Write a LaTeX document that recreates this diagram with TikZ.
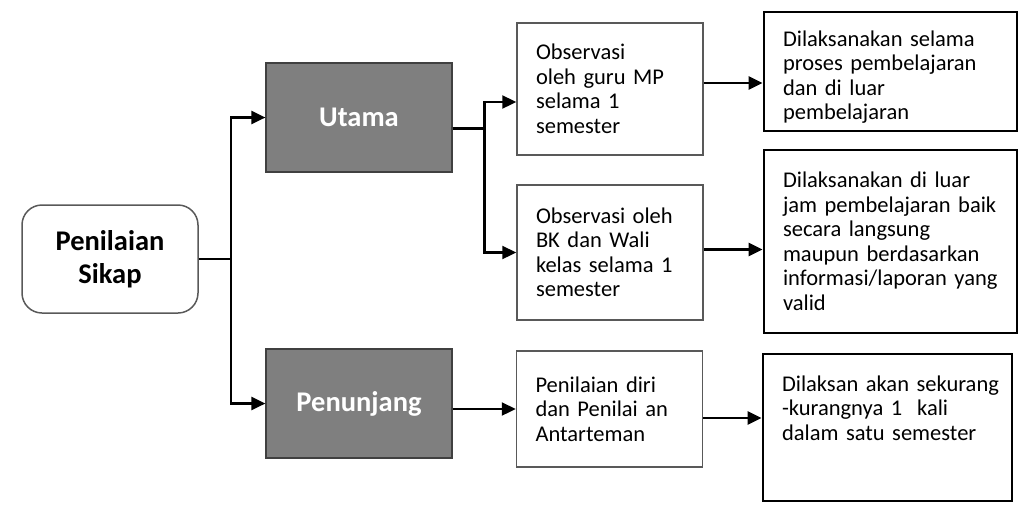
\documentclass[tikz,border=0pt]{standalone}
\usepackage{fontspec}
\setmainfont{Carlito}
\usetikzlibrary{arrows.meta}
\definecolor{boxgray}{HTML}{7F7F7F}
\definecolor{edgegray}{HTML}{595959}

\begin{document}
\begin{tikzpicture}[
    x=1pt, y=-1pt,
    root/.style={draw=edgegray, line width=1.5pt, rounded corners=20pt, minimum width=176pt, minimum height=108pt, align=center, font=\fontsize{28.5}{33}\selectfont\bfseries},
    cat/.style={draw=black!75, line width=1.2pt, fill=boxgray, text=white, minimum width=186pt, minimum height=109pt, font=\fontsize{28.5}{33}\selectfont\bfseries},
    obs/.style={draw=edgegray, line width=1.5pt, inner xsep=0pt, text width=148pt, minimum width=186pt, align=left, font=\fontsize{22.5}{24.5}\selectfont},
    ket/.style={draw=black, line width=2.8pt, inner xsep=0pt, text width=215pt, minimum width=253pt, align=left, font=\fontsize{22.5}{24.5}\selectfont},
    arr/.style={-{Triangle[length=14pt, width=13pt]}, line width=2.3pt}
]
\useasboundingbox (0,0) rectangle (1027,515);

% --- Root ---
\node[root] (sikap) at (110, 259) {Penilaian\\Sikap};

% --- Categories ---
\node[cat] (utama) at (359, 117.5) {Utama};
\node[cat] (penunjang) at (359, 403.5) {Penunjang};

% --- Observations ---
\node[obs, minimum height=132pt] (obs1) at (610, 89) {Observasi\\oleh guru MP\\selama 1\\semester};
\node[obs, minimum height=135pt] (obs2) at (610, 252.5) {Observasi oleh\\BK dan Wali\\kelas selama 1\\semester};
\node[obs, minimum height=116pt] (diri) at (609.5, 409) {Penilaian diri\\dan Penilai an\\Antarteman};

% --- Notes ---
\node[ket, minimum height=119pt] (ket1) at (890.5, 71.5) {\parbox[c][100pt][b]{\linewidth}{\raggedright Dilaksanakan selama\\proses pembelajaran\\dan di luar\\pembelajaran}};
\node[ket, minimum height=183pt] (ket2) at (890.5, 241.5) {Dilaksanakan di luar\\jam pembelajaran baik\\secara langsung\\maupun berdasarkan\\informasi/laporan yang\\valid};
\node[ket, minimum width=249pt, text width=211pt, minimum height=147pt] (ket3) at (887.5, 427.5) {\parbox[c][104pt][t]{230pt}{\raggedright Dilaksan akan sekurang\\-kurangnya 1\ \ kali\\dalam satu semester}};

% --- Connectors ---
\draw[arr] (sikap.east) -- ++(32,0) |- (utama.west);
\draw[arr] (sikap.east) -- ++(32,0) |- (penunjang.west);
\draw[arr] ([yshift=-11pt]utama.east) -- ++(32,0) |- ([yshift=-13pt]obs1.west);
\draw[arr] ([yshift=-11pt]utama.east) -- ++(32,0) |- (obs2.west);
\draw[arr] (penunjang.east |- diri.west) -- (diri.west);
\draw[arr] ([yshift=6pt]obs1.east) -- ([yshift=6pt]obs1.east -| ket1.west);
\draw[arr] ([yshift=3pt]obs2.east) -- ([yshift=3pt]obs2.east -| ket2.west);
\draw[arr] ([yshift=-9pt]diri.east) -- ([yshift=-9pt]diri.east -| ket3.west);
\end{tikzpicture}
\end{document}
